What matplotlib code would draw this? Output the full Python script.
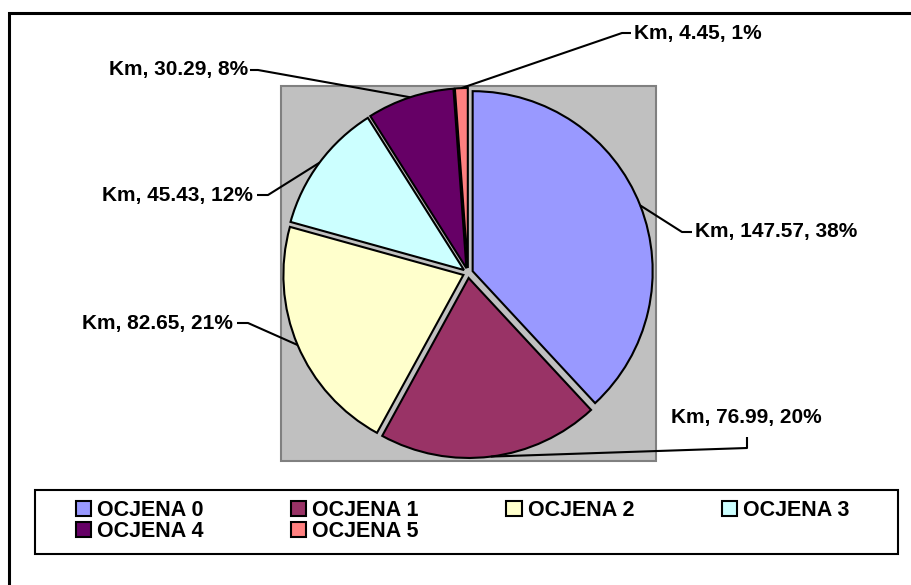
import numpy as np
import matplotlib
matplotlib.use("Agg")
import matplotlib.pyplot as plt
from matplotlib.patches import Rectangle

categories = ["OCJENA 0", "OCJENA 1", "OCJENA 2", "OCJENA 3", "OCJENA 4", "OCJENA 5"]
km_values = [147.57, 76.99, 82.65, 45.43, 30.29, 4.45]
series_name = "Km"
colors = ["#9999FF", "#993366", "#FFFFCC", "#CCFFFF", "#660066", "#FF8080"]

W, H = 912, 585
plt.rcParams['font.family'] = ['Liberation Sans', 'DejaVu Sans']

fig = plt.figure(figsize=(W / 100, H / 100), dpi=100)
ax = fig.add_axes([0, 0, 1, 1])

def Y(y_img):
    return H - y_img

# outer chart border (extends past the right/bottom edge)
ax.plot([9, 9, W + 10], [Y(H + 10), Y(13), Y(13)], color="black", lw=2.2,
        solid_joinstyle="miter", zorder=1)

# plot area
ax.add_patch(Rectangle((281, Y(461)), 375, 375, facecolor="#C0C0C0",
                       edgecolor="#808080", lw=1.5, zorder=1))

cx, cy, R = 468, Y(273), 180
gap = 5.0  # explode distance in pixels (pie adds it without scaling by radius)
wedges, _ = ax.pie(km_values, colors=colors, startangle=90, counterclock=False,
                   radius=R, center=(cx, cy), explode=[gap] * len(km_values),
                   wedgeprops=dict(edgecolor="black", linewidth=1.5), frame=True)
for w in wedges:
    w.set_zorder(2)

total = float(np.sum(km_values))
# label anchors (image coords): elbow point, line end, text anchor, alignment
label_layout = [
    ((682, 232), (692, 232), (695, 232), "left", "center"),
    ((747, 448), (747, 437), (746, 427), "center", "bottom"),
    ((248, 323), (237, 323), (233, 323), "right", "center"),
    ((268, 195), (257, 195), (253, 195), "right", "center"),
    ((258, 70), (250, 70), (248, 70), "right", "center"),
    ((622, 33), (631, 33), (634, 33), "left", "center"),
]
for w, v, (elbow, end, tpos, ha, va) in zip(wedges, km_values, label_layout):
    mid = np.deg2rad((w.theta1 + w.theta2) / 2.0)
    wx, wy = w.center
    sx = wx + R * np.cos(mid)
    sy = wy + R * np.sin(mid)
    ax.plot([sx, elbow[0], end[0]], [sy, Y(elbow[1]), Y(end[1])], color="black",
            lw=1.5, zorder=3, solid_capstyle="butt")
    pct = round(100 * v / total)
    ax.text(tpos[0], Y(tpos[1]), f"{series_name}, {v:.2f}, {pct}%", ha=ha, va=va,
            fontsize=15, fontweight="bold", zorder=4)

# legend box
ax.add_patch(Rectangle((35, Y(554)), 863, 64, facecolor="white", edgecolor="black",
                       lw=1.5, zorder=1))
# matplotlib fills legend columns first; reorder so rows read 0-3 then 4-5
order = [0, 4, 1, 5, 2, 3]
leg = ax.legend([wedges[i] for i in order], [categories[i] for i in order], ncol=4,
                loc="center",
                bbox_to_anchor=(462.5 / W, Y(521) / H), bbox_transform=fig.transFigure,
                frameon=False, prop=dict(weight="bold", size=15.5),
                handlelength=0.7, handleheight=0.7, handletextpad=0.28,
                columnspacing=4.08, labelspacing=-0.02, borderpad=0)
for h in leg.legend_handles:
    h.set_edgecolor("black")
    h.set_linewidth(1.5)

ax.set_xlim(0, W)
ax.set_ylim(0, H)
ax.set_aspect("auto")
ax.axis("off")
fig.savefig("out.png", dpi=100)
